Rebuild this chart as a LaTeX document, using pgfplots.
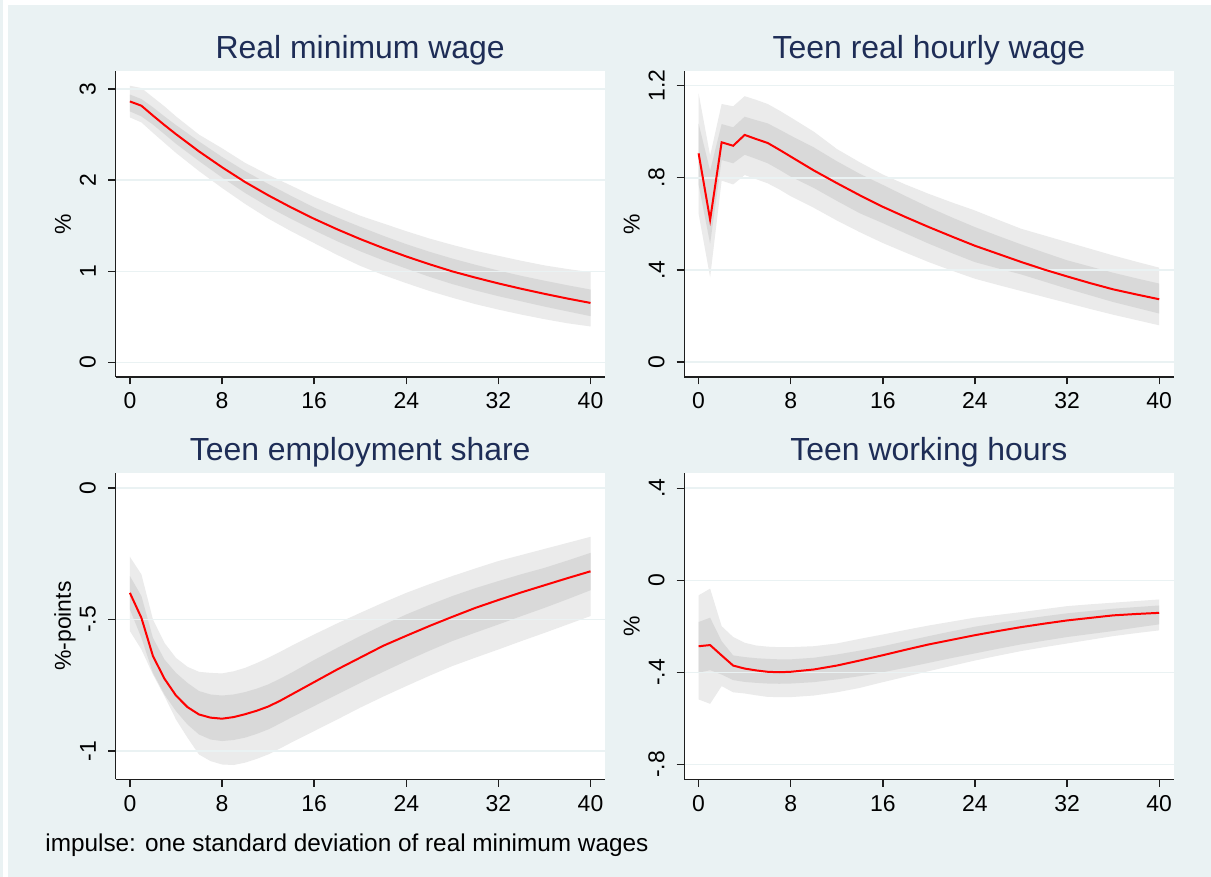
\documentclass[border=0pt]{standalone}
\usepackage{pgfplots}
\pgfplotsset{compat=1.18}
\usepackage{pgfplotstable}
\usepgfplotslibrary{fillbetween}
\usepackage{fontspec}
\setmainfont{Liberation Sans}
\definecolor{bg}{RGB}{234,242,243}
\definecolor{outerband}{RGB}{235,235,235}
\definecolor{innerband}{RGB}{217,217,217}
\definecolor{titlecol}{RGB}{30,45,86}
\definecolor{axiscol}{RGB}{30,30,30}

\pgfplotstableread{
t m olo ohi ilo ihi
0 2.864 2.689 3.036 2.755 2.940
1 2.817 2.634 3.011 2.700 2.890
2 2.709 2.520 2.910 2.610 2.800
3 2.605 2.410 2.810 2.505 2.700
4 2.505 2.300 2.700 2.400 2.605
6 2.316 2.100 2.500 2.210 2.425
8 2.142 1.915 2.350 2.030 2.255
10 1.980 1.740 2.190 1.860 2.100
12 1.835 1.580 2.060 1.710 1.960
14 1.701 1.440 1.940 1.575 1.828
16 1.576 1.310 1.820 1.450 1.700
18 1.461 1.180 1.715 1.330 1.590
20 1.354 1.060 1.610 1.220 1.488
22 1.255 0.960 1.525 1.120 1.390
24 1.163 0.870 1.440 1.030 1.298
26 1.078 0.785 1.360 0.940 1.215
28 0.999 0.710 1.290 0.860 1.140
30 0.931 0.640 1.225 0.790 1.072
32 0.867 0.580 1.170 0.727 1.008
34 0.808 0.525 1.115 0.670 0.950
36 0.753 0.475 1.065 0.613 0.897
38 0.701 0.430 1.025 0.560 0.847
40 0.653 0.395 0.990 0.508 0.800
}\tabA

\pgfplotstableread{
t m olo ohi ilo ihi
0 0.906 0.644 1.166 0.770 1.035
1 0.618 0.369 0.896 0.514 0.831
2 0.954 0.788 1.120 0.877 1.033
3 0.939 0.771 1.110 0.863 1.019
4 0.986 0.812 1.154 0.900 1.065
5 0.968 0.794 1.138 0.882 1.050
6 0.951 0.776 1.120 0.863 1.036
7 0.922 0.750 1.092 0.835 1.010
8 0.892 0.720 1.062 0.805 0.983
10 0.832 0.670 1.000 0.756 0.932
12 0.777 0.615 0.925 0.700 0.872
14 0.724 0.564 0.867 0.646 0.817
16 0.674 0.517 0.814 0.603 0.769
18 0.629 0.475 0.770 0.558 0.720
20 0.586 0.434 0.730 0.514 0.672
22 0.545 0.397 0.693 0.473 0.628
24 0.505 0.362 0.658 0.434 0.586
26 0.470 0.335 0.618 0.407 0.548
28 0.435 0.309 0.579 0.381 0.511
30 0.402 0.283 0.550 0.350 0.476
32 0.372 0.257 0.521 0.319 0.442
34 0.343 0.231 0.492 0.290 0.415
36 0.316 0.206 0.463 0.261 0.388
38 0.294 0.183 0.436 0.236 0.364
40 0.273 0.160 0.410 0.211 0.341
}\tabB

\pgfplotstableread{
t m olo ohi ilo ihi
0 -0.399 -0.544 -0.262 -0.462 -0.335
1 -0.494 -0.614 -0.329 -0.570 -0.411
2 -0.639 -0.709 -0.500 -0.703 -0.570
3 -0.725 -0.791 -0.589 -0.785 -0.652
4 -0.789 -0.880 -0.646 -0.848 -0.703
5 -0.833 -0.949 -0.680 -0.899 -0.741
6 -0.861 -1.013 -0.699 -0.937 -0.772
7 -0.873 -1.038 -0.703 -0.956 -0.785
8 -0.877 -1.051 -0.705 -0.962 -0.789
9 -0.871 -1.053 -0.697 -0.958 -0.785
10 -0.860 -1.044 -0.684 -0.949 -0.776
11 -0.847 -1.030 -0.666 -0.935 -0.763
12 -0.831 -1.013 -0.646 -0.918 -0.747
13 -0.810 -0.991 -0.624 -0.896 -0.726
14 -0.786 -0.968 -0.601 -0.873 -0.703
16 -0.738 -0.924 -0.557 -0.829 -0.654
18 -0.690 -0.880 -0.515 -0.785 -0.608
20 -0.645 -0.835 -0.475 -0.741 -0.563
22 -0.600 -0.793 -0.436 -0.699 -0.521
24 -0.562 -0.753 -0.399 -0.658 -0.481
26 -0.525 -0.714 -0.366 -0.619 -0.445
28 -0.490 -0.677 -0.335 -0.582 -0.411
30 -0.456 -0.645 -0.306 -0.550 -0.381
32 -0.426 -0.614 -0.278 -0.519 -0.354
34 -0.397 -0.582 -0.255 -0.487 -0.328
36 -0.370 -0.551 -0.232 -0.456 -0.304
38 -0.343 -0.519 -0.209 -0.423 -0.276
40 -0.317 -0.487 -0.186 -0.389 -0.247
}\tabC

\pgfplotstableread{
t m olo ohi ilo ihi
0 -0.286 -0.517 -0.065 -0.401 -0.181
1 -0.281 -0.536 -0.036 -0.390 -0.162
2 -0.326 -0.459 -0.199 -0.409 -0.264
3 -0.370 -0.486 -0.246 -0.433 -0.326
4 -0.383 -0.491 -0.271 -0.441 -0.333
5 -0.391 -0.499 -0.283 -0.445 -0.338
6 -0.397 -0.506 -0.288 -0.448 -0.341
7 -0.399 -0.507 -0.290 -0.449 -0.343
8 -0.397 -0.507 -0.290 -0.448 -0.343
10 -0.387 -0.500 -0.286 -0.442 -0.336
12 -0.370 -0.486 -0.274 -0.430 -0.322
14 -0.348 -0.467 -0.254 -0.416 -0.305
16 -0.325 -0.442 -0.235 -0.399 -0.286
18 -0.301 -0.418 -0.215 -0.379 -0.264
20 -0.278 -0.394 -0.196 -0.358 -0.242
22 -0.258 -0.371 -0.179 -0.337 -0.221
24 -0.238 -0.348 -0.162 -0.317 -0.201
26 -0.220 -0.327 -0.150 -0.297 -0.185
28 -0.203 -0.307 -0.138 -0.278 -0.170
30 -0.188 -0.290 -0.125 -0.262 -0.156
32 -0.174 -0.274 -0.112 -0.246 -0.143
34 -0.163 -0.258 -0.104 -0.233 -0.133
36 -0.152 -0.242 -0.097 -0.220 -0.123
38 -0.146 -0.229 -0.090 -0.205 -0.116
40 -0.141 -0.217 -0.083 -0.191 -0.109
}\tabD

\pgfplotsset{
  irf/.style={
    scale only axis, width=490.5pt, anchor=south west,
    xmin=-1.25, xmax=41.25,
    axis lines=left, axis line style={-, axiscol, line width=1.4pt},
    tick align=outside, major tick length=7.5pt,
    tick style={axiscol, line width=1.4pt},
    xtick={0,8,16,24,32,40}, xticklabels={0,8,16,24,32,40},
    ymajorgrids, major grid style={bg, line width=1.6pt},
    axis background/.style={fill=white},
    ticklabel style={font=\fontsize{23}{26}\selectfont, inner sep=0pt, text=black},
    xticklabel style={anchor=north},
    yticklabel style={rotate=90, anchor=south},
    xticklabel shift=8.1pt, yticklabel shift=12pt,
    every axis title/.style={font=\fontsize{32}{36}\selectfont, color=titlecol, at={(0.5,1)}, anchor=base, yshift=12.5pt, inner sep=0pt},
    every axis y label/.style={at={(axis description cs:-0.0913,0.5)}, rotate=90, anchor=base, inner sep=0pt, font=\fontsize{23}{26}\selectfont},
    set layers=axis on top,
  }
}

\newcommand{\bands}[2]{%
  \addplot[draw=none, name path=oh#2] table[x=t,y=ohi]{#1};
  \addplot[draw=none, name path=ol#2] table[x=t,y=olo]{#1};
  \addplot[fill=outerband, draw=none] fill between[of=oh#2 and ol#2];
  \addplot[draw=none, name path=ih#2] table[x=t,y=ihi]{#1};
  \addplot[draw=none, name path=il#2] table[x=t,y=ilo]{#1};
  \addplot[fill=innerband, draw=none] fill between[of=ih#2 and il#2];
  \addplot[red, line width=2pt, no marks, on layer=axis foreground] table[x=t,y=m]{#1};
}

\begin{document}
\pagecolor{bg}
\begin{tikzpicture}
\path (0,0) rectangle (1211pt,879pt);
\fill[white] (0,0) rectangle (5pt,879pt);
\fill[white] (0,874pt) rectangle (1211pt,879pt);

\begin{axis}[irf, at={(113pt,501.3pt)}, height=306.7pt,
  ymin=-0.158, ymax=3.2, ytick={0,1,2,3}, yticklabels={0,1,2,3},
  title={Real minimum wage}, ylabel={\%}]
\bands{\tabA}{a}
\end{axis}

\begin{axis}[irf, at={(683pt,501.3pt)}, height=306.7pt,
  ymin=-0.0636, ymax=1.264, ytick={0,0.4,0.8,1.2}, yticklabels={0,.4,.8,1.2},
  title={Teen real hourly wage}, ylabel={\%}]
\bands{\tabB}{b}
\end{axis}

\begin{axis}[irf, at={(113pt,98pt)}, height=307pt,
  ymin=-1.107, ymax=0.0569, ytick={-1,-0.5,0}, yticklabels={-1,-.5,0},
  title={Teen employment share}, ylabel={\%-points}]
\bands{\tabC}{c}
\end{axis}

\begin{axis}[irf, at={(683pt,98pt)}, height=307pt,
  ymin=-0.8635, ymax=0.4666, ytick={-0.8,-0.4,0,0.4}, yticklabels={-.8,-.4,0,.4},
  title={Teen working hours}, ylabel={\%}]
\bands{\tabD}{d}
\end{axis}

\node[anchor=base west, inner sep=0pt, font=\fontsize{24.4}{28}\selectfont] at (42.5pt,26pt) {impulse: one standard deviation of real minimum wages};
\end{tikzpicture}
\end{document}
